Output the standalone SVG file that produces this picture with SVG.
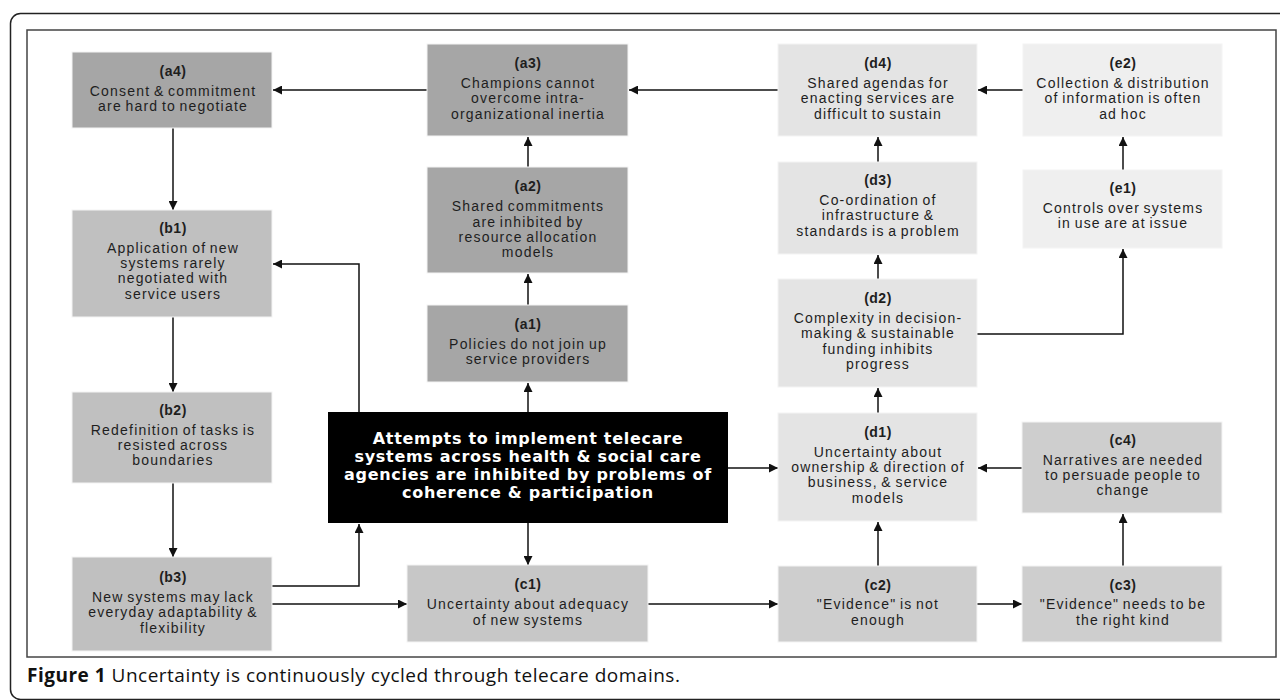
<svg xmlns="http://www.w3.org/2000/svg" width="1280" height="700" viewBox="0 0 1280 700">
<defs>
<marker id="ah" markerUnits="userSpaceOnUse" markerWidth="9" markerHeight="9" refX="9" refY="4.5" orient="auto">
<path d="M0,0 L9,4.5 L0,9 z" fill="#111"/>
</marker>
<style>
.box{stroke:#f4f4f4;stroke-width:1}
.a{fill:#a6a6a6}.b{fill:#c0c0c0}.c1{fill:#c7c7c7}.c{fill:#cecece}.d{fill:#e4e4e4}.e{fill:#efefef}
.lab{font-family:"Liberation Sans",Arial,sans-serif;font-size:14px;font-weight:bold;fill:#1e1e1e;text-anchor:middle;letter-spacing:0.5px}
.t{font-family:"Liberation Sans",Arial,sans-serif;font-size:14px;fill:#1e1e1e;text-anchor:middle;letter-spacing:1.2px;word-spacing:-1.5px}
.ct{font-family:"DejaVu Sans",Verdana,sans-serif;font-size:16px;font-weight:bold;fill:#fff;text-anchor:middle;letter-spacing:0.7px}
.conn path{fill:none;stroke:#111;stroke-width:1.5;marker-end:url(#ah)}
.cap{font-family:"Open Sans","Liberation Sans",sans-serif;font-size:19px;fill:#111;letter-spacing:0.5px}
</style>
</defs>
<rect width="1280" height="700" fill="#fff"/>
<rect x="10.5" y="13.5" width="1300" height="686" rx="10" fill="none" stroke="#222" stroke-width="1.5"/>
<rect x="27" y="30" width="1249" height="627" fill="none" stroke="#444" stroke-width="1.5"/>

<g class="conn" id="connectors">
<path d="M778,90 L629,90"/>
<path d="M427,90 L273,90"/>
<path d="M528,167 L528,137"/>
<path d="M528,305 L528,274"/>
<path d="M528,412 L528,383"/>
<path d="M528,523 L528,565"/>
<path d="M648,604 L778,604"/>
<path d="M977,604 L1022,604"/>
<path d="M1123,566 L1123,514"/>
<path d="M1022,468 L978,468"/>
<path d="M878,566 L878,522"/>
<path d="M728,468 L778,468"/>
<path d="M878,413 L878,388"/>
<path d="M878,279 L878,255"/>
<path d="M878,162 L878,137"/>
<path d="M977,334 L1123,334 L1123,249"/>
<path d="M1123,170 L1123,137"/>
<path d="M1023,90 L978,90"/>
<path d="M173,128 L173,210"/>
<path d="M359,412 L359,264 L273,264"/>
<path d="M173,317 L173,392"/>
<path d="M173,483 L173,557"/>
<path d="M272,586 L359,586 L359,524"/>
<path d="M272,604 L407,604"/>
</g>

<g id="a4"><rect class="box a" x="72" y="52" width="200" height="76"/>
<text class="lab" x="173" y="76">(a4)</text>
<text class="t" x="173" y="96">Consent &amp; commitment</text>
<text class="t" x="173" y="111">are hard to negotiate</text></g>

<g id="a3"><rect class="box a" x="427" y="44" width="201" height="92"/>
<text class="lab" x="528" y="68">(a3)</text>
<text class="t" x="528" y="88">Champions cannot</text>
<text class="t" x="528" y="103">overcome intra-</text>
<text class="t" x="528" y="119">organizational inertia</text></g>

<g id="a2"><rect class="box a" x="427" y="167" width="201" height="106"/>
<text class="lab" x="528" y="191">(a2)</text>
<text class="t" x="528" y="211">Shared commitments</text>
<text class="t" x="528" y="227">are inhibited by</text>
<text class="t" x="528" y="242">resource allocation</text>
<text class="t" x="528" y="257">models</text></g>

<g id="a1"><rect class="box a" x="427" y="305" width="201" height="77"/>
<text class="lab" x="528" y="329">(a1)</text>
<text class="t" x="528" y="349">Policies do not join up</text>
<text class="t" x="528" y="364">service providers</text></g>

<g id="center"><rect x="328" y="412" width="400" height="111" fill="#000"/>
<text class="ct" x="528" y="444">Attempts to implement telecare</text>
<text class="ct" x="528" y="462">systems across health &amp; social care</text>
<text class="ct" x="528" y="480">agencies are inhibited by problems of</text>
<text class="ct" x="528" y="498">coherence &amp; participation</text></g>

<g id="b1"><rect class="box b" x="72" y="210" width="200" height="107"/>
<text class="lab" x="173" y="233">(b1)</text>
<text class="t" x="173" y="253">Application of new</text>
<text class="t" x="173" y="268">systems rarely</text>
<text class="t" x="173" y="283">negotiated with</text>
<text class="t" x="173" y="299">service users</text></g>

<g id="b2"><rect class="box b" x="72" y="392" width="200" height="91"/>
<text class="lab" x="173" y="415">(b2)</text>
<text class="t" x="173" y="435">Redefinition of tasks is</text>
<text class="t" x="173" y="450">resisted across</text>
<text class="t" x="173" y="465">boundaries</text></g>

<g id="b3"><rect class="box b" x="72" y="557" width="200" height="94"/>
<text class="lab" x="173" y="582">(b3)</text>
<text class="t" x="173" y="602">New systems may lack</text>
<text class="t" x="173" y="617">everyday adaptability &amp;</text>
<text class="t" x="173" y="633">flexibility</text></g>

<g id="c1"><rect class="box c1" x="407" y="565" width="241" height="77"/>
<text class="lab" x="528" y="589">(c1)</text>
<text class="t" x="528" y="609">Uncertainty about adequacy</text>
<text class="t" x="528" y="625">of new systems</text></g>

<g id="c2"><rect class="box c" x="778" y="566" width="199" height="76"/>
<text class="lab" x="878" y="590">(c2)</text>
<text class="t" x="878" y="609">"Evidence" is not</text>
<text class="t" x="878" y="625">enough</text></g>

<g id="c3"><rect class="box c" x="1022" y="566" width="200" height="76"/>
<text class="lab" x="1123" y="590">(c3)</text>
<text class="t" x="1123" y="609">"Evidence" needs to be</text>
<text class="t" x="1123" y="625">the right kind</text></g>

<g id="c4"><rect class="box c" x="1022" y="422" width="200" height="91"/>
<text class="lab" x="1123" y="445">(c4)</text>
<text class="t" x="1123" y="465">Narratives are needed</text>
<text class="t" x="1123" y="480">to persuade people to</text>
<text class="t" x="1123" y="495">change</text></g>

<g id="d1"><rect class="box d" x="778" y="413" width="199" height="108"/>
<text class="lab" x="878" y="437">(d1)</text>
<text class="t" x="878" y="457">Uncertainty about</text>
<text class="t" x="878" y="472">ownership &amp; direction of</text>
<text class="t" x="878" y="487">business, &amp; service</text>
<text class="t" x="878" y="503">models</text></g>

<g id="d2"><rect class="box d" x="778" y="279" width="199" height="108"/>
<text class="lab" x="878" y="303">(d2)</text>
<text class="t" x="878" y="323">Complexity in decision-</text>
<text class="t" x="878" y="338">making &amp; sustainable</text>
<text class="t" x="878" y="354">funding inhibits</text>
<text class="t" x="878" y="369">progress</text></g>

<g id="d3"><rect class="box d" x="778" y="162" width="199" height="92"/>
<text class="lab" x="878" y="185">(d3)</text>
<text class="t" x="878" y="205">Co-ordination of</text>
<text class="t" x="878" y="220">infrastructure &amp;</text>
<text class="t" x="878" y="236">standards is a problem</text></g>

<g id="d4"><rect class="box d" x="778" y="44" width="199" height="92"/>
<text class="lab" x="878" y="68">(d4)</text>
<text class="t" x="878" y="88">Shared agendas for</text>
<text class="t" x="878" y="103">enacting services are</text>
<text class="t" x="878" y="119">difficult to sustain</text></g>

<g id="e1"><rect class="box e" x="1023" y="170" width="199" height="78"/>
<text class="lab" x="1123" y="193">(e1)</text>
<text class="t" x="1123" y="213">Controls over systems</text>
<text class="t" x="1123" y="228">in use are at issue</text></g>

<g id="e2"><rect class="box e" x="1023" y="44" width="199" height="92"/>
<text class="lab" x="1123" y="68">(e2)</text>
<text class="t" x="1123" y="88">Collection &amp; distribution</text>
<text class="t" x="1123" y="103">of information is often</text>
<text class="t" x="1123" y="119">ad hoc</text></g>

<text class="cap" x="27" y="682"><tspan font-weight="bold">Figure 1</tspan> Uncertainty is continuously cycled through telecare domains.</text>
</svg>
